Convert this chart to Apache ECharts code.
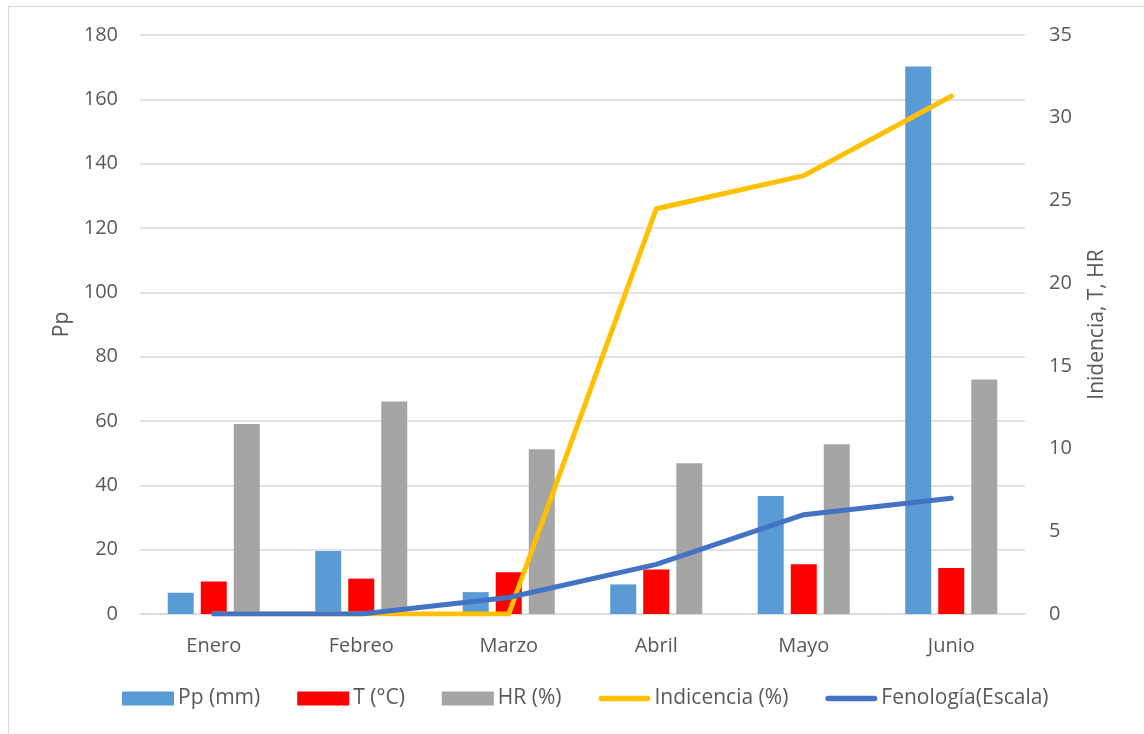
<!DOCTYPE html>
<html>
<head>
<meta charset="utf-8">
<script src="https://cdn.jsdelivr.net/npm/echarts@6/dist/echarts.min.js"></script>
<style>
  html, body { margin: 0; padding: 0; background: #fff; }
  #frame { position: absolute; left: 8px; top: 6px; width: 1200px; height: 800px; border: 1px solid #d9d9d9; box-sizing: border-box; }
  #chart { position: absolute; left: 0; top: 0; width: 1144px; height: 734px; }
</style>
</head>
<body>
<div id="frame"></div>
<div id="chart"></div>
<script>
// Monthly climate and disease records
const months = ['Enero', 'Febreo', 'Marzo', 'Abril', 'Mayo', 'Junio'];
const ppMm = [6.6, 19.6, 6.8, 9.2, 36.7, 170.2];
const tempC = [10.1, 11.0, 13.0, 13.8, 15.5, 14.3];
const hrPct = [59.1, 66.1, 51.2, 46.9, 52.8, 72.9];
const incidencia = [0, 0, 0, 24.5, 26.5, 31.3];
const fenologia = [0, 0, 1, 3, 6, 7];

const leftTicks = { min: 0, max: 180, interval: 20 };
const rightTicks = { min: 0, max: 35, interval: 5 };

const FONT = '"Open Sans", "Noto Sans", sans-serif';
const TXT = '#595959';
const GRID = '#d9d9d9';
const LINE_ICON = 'path://M3,0 L54,0 A3,3 0 0 1 54,6 L3,6 A3,3 0 0 1 3,0 Z';

const chart = echarts.init(document.getElementById('chart'), null, { renderer: 'canvas' });

chart.setOption({
  animation: false,
  backgroundColor: 'transparent',
  textStyle: { fontFamily: FONT, color: TXT },
  grid: { left: 140, right: 119, top: 35, bottom: 120, containLabel: false },
  legend: {
    bottom: 20,
    left: 117,
    itemWidth: 52,
    itemHeight: 14,
    itemGap: 37,
    textStyle: { fontFamily: FONT, fontSize: 21, color: TXT, padding: [0, 0, 0, -1] },
    data: [
      { name: 'Pp (mm)', icon: 'rect' },
      { name: 'T (°C)', icon: 'rect' },
      { name: 'HR (%)', icon: 'rect' },
      { name: 'Indicencia (%)', icon: LINE_ICON },
      { name: 'Fenología(Escala)', icon: LINE_ICON }
    ]
  },
  xAxis: {
    type: 'category',
    data: months,
    axisLine: { lineStyle: { color: GRID, width: 1.5 } },
    axisTick: { show: false },
    axisLabel: { fontFamily: FONT, fontSize: 20, color: TXT, margin: 22 }
  },
  yAxis: [
    {
      type: 'value',
      min: leftTicks.min, max: leftTicks.max, interval: leftTicks.interval,
      name: 'Pp',
      nameLocation: 'middle',
      nameRotate: 90,
      nameGap: 67,
      nameTextStyle: { fontFamily: FONT, fontSize: 21, color: TXT },
      axisLine: { show: false },
      axisTick: { show: false },
      axisLabel: { fontFamily: FONT, fontSize: 20, color: TXT, margin: 22 },
      splitLine: { lineStyle: { color: GRID, width: 1.5 } }
    },
    {
      type: 'value',
      position: 'right',
      min: rightTicks.min, max: rightTicks.max, interval: rightTicks.interval,
      name: 'Inidencia, T, HR',
      nameLocation: 'middle',
      nameRotate: 90,
      nameGap: 62,
      nameTextStyle: { fontFamily: FONT, fontSize: 21, color: TXT },
      axisLine: { show: false },
      axisTick: { show: false },
      axisLabel: { fontFamily: FONT, fontSize: 20, color: TXT, margin: 24 },
      splitLine: { show: false }
    }
  ],
  series: [
    {
      name: 'Pp (mm)', type: 'bar', yAxisIndex: 0, data: ppMm,
      barWidth: 26, barGap: '27%',
      itemStyle: { color: '#5B9BD5' }
    },
    {
      name: 'T (°C)', type: 'bar', yAxisIndex: 0, data: tempC,
      barWidth: 26, barGap: '27%',
      itemStyle: { color: '#FF0000' }
    },
    {
      name: 'HR (%)', type: 'bar', yAxisIndex: 0, data: hrPct,
      barWidth: 26, barGap: '27%',
      itemStyle: { color: '#A5A5A5' }
    },
    {
      name: 'Indicencia (%)', type: 'line', yAxisIndex: 1, data: incidencia,
      symbol: 'none', showSymbol: false,
      itemStyle: { color: '#FFC000' },
      lineStyle: { color: '#FFC000', width: 5, cap: 'round', join: 'round' }
    },
    {
      name: 'Fenología(Escala)', type: 'line', yAxisIndex: 1, data: fenologia,
      symbol: 'none', showSymbol: false,
      itemStyle: { color: '#4472C4' },
      lineStyle: { color: '#4472C4', width: 5, cap: 'round', join: 'round' }
    }
  ]
});
</script>
</body>
</html>
